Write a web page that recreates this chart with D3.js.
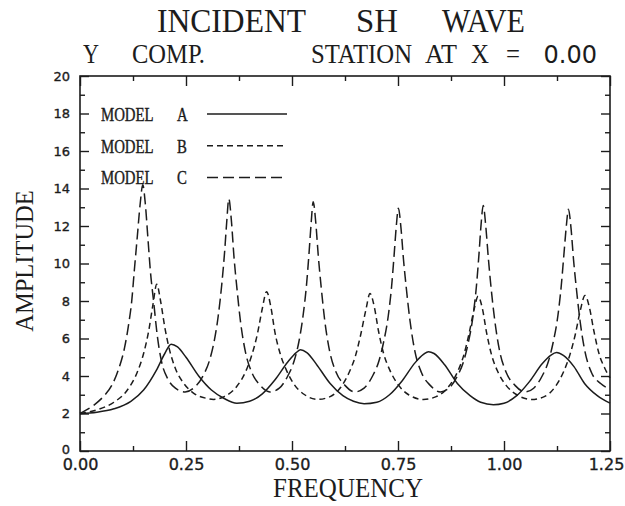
<!DOCTYPE html>
<html>
<head>
<meta charset="utf-8">
<script src="https://cdn.jsdelivr.net/npm/d3@7"></script>
<style>
  html, body { margin: 0; padding: 0; background: #fff; }
  svg { display: block; }
  text { white-space: pre; }
</style>
</head>
<body>
<svg id="chart" width="625" height="506"></svg>
<script>
// Axis ticks
const frequencyTicks = [0, 0.25, 0.5, 0.75, 1.0, 1.25];
const frequencyMinorTicks = [0.125, 0.375, 0.625, 0.875, 1.125];
const amplitudeTicks = [0, 2, 4, 6, 8, 10, 12, 14, 16, 18, 20];
const amplitudeMinorTicks = [1, 3, 5, 7, 9, 11, 13, 15, 17, 19];

// Model A (solid)
const freqA = [0, 0.04, 0.08, 0.12, 0.15, 0.18, 0.20, 0.215, 0.23, 0.25, 0.28, 0.31, 0.34, 0.37, 0.40, 0.43, 0.46, 0.49, 0.51, 0.52, 0.535, 0.56, 0.59, 0.62, 0.645, 0.67, 0.70, 0.73, 0.76, 0.79, 0.81, 0.822, 0.835, 0.86, 0.89, 0.92, 0.945, 0.975, 1.0, 1.03, 1.06, 1.09, 1.11, 1.124, 1.14, 1.165, 1.19, 1.22, 1.25];
const ampA  = [2.0, 2.07, 2.25, 2.65, 3.25, 4.3, 5.2, 5.7, 5.55, 5.0, 4.0, 3.25, 2.8, 2.55, 2.65, 3.05, 3.8, 4.75, 5.25, 5.4, 5.25, 4.55, 3.6, 2.95, 2.65, 2.52, 2.6, 3.0, 3.75, 4.7, 5.15, 5.3, 5.2, 4.6, 3.6, 2.95, 2.6, 2.47, 2.55, 2.95, 3.7, 4.65, 5.1, 5.25, 5.1, 4.5, 3.6, 2.95, 2.55];

// Model B (short dashes)
const freqB = [0, 0.04, 0.08, 0.11, 0.135, 0.15, 0.162, 0.172, 0.181, 0.19, 0.20, 0.21, 0.225, 0.245, 0.27, 0.30, 0.315, 0.34, 0.37, 0.39, 0.405, 0.418, 0.43, 0.44, 0.45, 0.46, 0.472, 0.487, 0.505, 0.53, 0.56, 0.59, 0.615, 0.635, 0.65, 0.662, 0.674, 0.684, 0.694, 0.704, 0.716, 0.731, 0.75, 0.775, 0.81, 0.84, 0.87, 0.89, 0.905, 0.917, 0.929, 0.939, 0.949, 0.959, 0.971, 0.986, 1.005, 1.03, 1.065, 1.095, 1.12, 1.14, 1.155, 1.168, 1.18, 1.191, 1.201, 1.212, 1.224, 1.238, 1.25];
const ampB  = [2.0, 2.2, 2.6, 3.2, 4.2, 5.2, 6.4, 7.8, 8.9, 8.0, 6.6, 5.5, 4.4, 3.6, 3.05, 2.8, 2.75, 2.9, 3.45, 4.2, 5.1, 6.2, 7.6, 8.5, 7.7, 6.3, 5.2, 4.3, 3.55, 3.0, 2.75, 2.9, 3.4, 4.2, 5.1, 6.2, 7.5, 8.4, 7.7, 6.4, 5.2, 4.3, 3.55, 3.0, 2.75, 2.9, 3.45, 4.2, 5.1, 6.2, 7.5, 8.25, 7.6, 6.3, 5.1, 4.2, 3.5, 3.0, 2.75, 2.9, 3.4, 4.2, 5.1, 6.2, 7.5, 8.3, 7.7, 6.4, 5.2, 4.4, 3.9];

// Model C (long dashes)
const freqC = [0, 0.03, 0.055, 0.075, 0.09, 0.105, 0.115, 0.122, 0.128, 0.135, 0.142, 0.148, 0.154, 0.16, 0.166, 0.174, 0.182, 0.192, 0.207, 0.225, 0.248,
  0.27, 0.29, 0.305, 0.316, 0.326, 0.334, 0.341, 0.346, 0.351, 0.357, 0.363, 0.37, 0.378, 0.39, 0.405, 0.425, 0.448,
  0.47, 0.49, 0.505, 0.516, 0.526, 0.534, 0.54, 0.545, 0.55, 0.556, 0.562, 0.569, 0.577, 0.589, 0.604, 0.625, 0.648,
  0.67, 0.69, 0.705, 0.716, 0.727, 0.735, 0.741, 0.746, 0.751, 0.757, 0.763, 0.77, 0.778, 0.79, 0.805, 0.826, 0.85,
  0.87, 0.89, 0.905, 0.916, 0.927, 0.935, 0.941, 0.946, 0.951, 0.957, 0.963, 0.97, 0.978, 0.99, 1.005, 1.026, 1.05,
  1.07, 1.09, 1.105, 1.116, 1.127, 1.135, 1.141, 1.147, 1.152, 1.158, 1.164, 1.171, 1.179, 1.191, 1.206, 1.228, 1.25];
const ampC  = [2.0, 2.4, 2.9, 3.5, 4.3, 5.5, 6.8, 8.0, 9.6, 11.4, 13.2, 14.2, 13.2, 11.4, 9.6, 7.9, 6.2, 4.8, 3.85, 3.35, 3.15,
  3.4, 4.0, 4.8, 5.8, 7.2, 8.8, 10.6, 12.2, 13.45, 12.3, 10.4, 8.7, 7.0, 5.3, 4.2, 3.5, 3.15,
  3.35, 4.0, 4.8, 5.8, 7.2, 8.8, 10.5, 12.1, 13.3, 12.2, 10.4, 8.7, 7.0, 5.3, 4.2, 3.5, 3.15,
  3.35, 4.0, 4.8, 5.8, 7.2, 8.8, 10.5, 12.0, 12.95, 11.9, 10.2, 8.6, 7.0, 5.3, 4.2, 3.5, 3.15,
  3.35, 4.0, 4.8, 5.8, 7.2, 8.8, 10.5, 12.1, 13.1, 12.0, 10.3, 8.6, 7.0, 5.3, 4.2, 3.5, 3.15,
  3.35, 4.0, 4.8, 5.8, 7.2, 8.8, 10.4, 12.0, 12.9, 11.9, 10.2, 8.6, 7.0, 5.3, 4.2, 3.6, 3.3];

const modelNames = ["A", "B", "C"];
const modelDashes = [null, "6,4", "11,5"];

// Heading words: [text, left x, width]
const titleWords = [["INCIDENT", 157, 149], ["SH", 356, 42], ["WAVE", 442, 83]];
const subtitleWords = [["Y", 83, 16], ["COMP.", 132, 73], ["STATION", 311, 101], ["AT", 425, 32], ["X", 471, 18], ["=", 506, 14]];
const stationValue = "0.00";

const ink = "#1c1c1c";
const serif = "'Liberation Serif', 'Times New Roman', serif";
const sans = "'DejaVu Sans', sans-serif";

const svg = d3.select("#chart");
const plot = { left: 80, right: 610, top: 76, bottom: 451 };

const x = d3.scaleLinear().domain([0, 1.25]).range([plot.left, plot.right]);
const y = d3.scaleLinear().domain([0, 20]).range([plot.bottom, plot.top]);

// Title and subtitle, word by word
svg.append("g").selectAll("text")
  .data(titleWords)
  .join("text")
  .attr("transform", d => `translate(${d[1]},32) scale(1,1.1)`)
  .attr("textLength", d => d[2]).attr("lengthAdjust", "spacingAndGlyphs")
  .attr("font-family", serif).attr("font-size", 31.5)
  .attr("fill", ink)
  .text(d => d[0]);

svg.append("g").selectAll("text")
  .data(subtitleWords)
  .join("text")
  .attr("transform", d => `translate(${d[1]},63) scale(1,1.1)`)
  .attr("textLength", d => d[2]).attr("lengthAdjust", "spacingAndGlyphs")
  .attr("font-family", serif).attr("font-size", 24)
  .attr("fill", ink)
  .text(d => d[0]);

svg.append("text")
  .attr("x", 597).attr("y", 63)
  .attr("text-anchor", "end")
  .attr("font-family", sans).attr("font-size", 24)
  .attr("fill", ink)
  .text(stationValue);

// Axes: ticks point into the plot on all four sides
const bottomAxis = d3.axisBottom(x).tickValues(frequencyTicks).tickSize(-10).tickPadding(8)
  .tickFormat(d3.format(".2f"));
const bottomMinor = d3.axisBottom(x).tickValues(frequencyMinorTicks).tickSize(-5).tickFormat("");
const topAxis = d3.axisTop(x).tickValues(frequencyTicks).tickSize(-10).tickFormat("");
const topMinor = d3.axisTop(x).tickValues(frequencyMinorTicks).tickSize(-5).tickFormat("");
const leftAxis = d3.axisLeft(y).tickValues(amplitudeTicks).tickSize(-9).tickPadding(10)
  .tickFormat(d3.format("d"));
const leftMinor = d3.axisLeft(y).tickValues(amplitudeMinorTicks).tickSize(-5).tickFormat("");
const rightAxis = d3.axisRight(y).tickValues(amplitudeTicks).tickSize(-9).tickFormat("");
const rightMinor = d3.axisRight(y).tickValues(amplitudeMinorTicks).tickSize(-5).tickFormat("");

function styleAxis(size) {
  return g => {
    g.select(".domain").remove();
    g.selectAll(".tick line").attr("stroke", ink).attr("stroke-width", 1.4);
    g.selectAll(".tick text")
      .attr("fill", ink).attr("stroke", ink).attr("stroke-width", 0.35)
      .attr("font-family", sans).attr("font-size", size);
  };
}

svg.append("g").attr("transform", `translate(0,${plot.bottom})`).call(bottomAxis).call(styleAxis(16))
  .selectAll(".tick text").attr("dx", d => d === 1.25 ? -4 : 0);
svg.append("g").attr("transform", `translate(0,${plot.bottom})`).call(bottomMinor).call(styleAxis(16));
svg.append("g").attr("transform", `translate(0,${plot.top})`).call(topAxis).call(styleAxis(16));
svg.append("g").attr("transform", `translate(0,${plot.top})`).call(topMinor).call(styleAxis(16));
svg.append("g").attr("transform", `translate(${plot.left},0)`).call(leftAxis).call(styleAxis(13))
  .selectAll(".tick text").attr("dy", d => d === 0 ? "0.2em" : "0.32em");
svg.append("g").attr("transform", `translate(${plot.left},0)`).call(leftMinor).call(styleAxis(13));
svg.append("g").attr("transform", `translate(${plot.right},0)`).call(rightAxis).call(styleAxis(13));
svg.append("g").attr("transform", `translate(${plot.right},0)`).call(rightMinor).call(styleAxis(13));

// Frame
svg.append("rect")
  .attr("x", plot.left).attr("y", plot.top)
  .attr("width", plot.right - plot.left).attr("height", plot.bottom - plot.top)
  .attr("fill", "none").attr("stroke", ink).attr("stroke-width", 1.6);

// Axis titles
svg.append("text")
  .attr("transform", `translate(33,261) rotate(-90)`)
  .attr("text-anchor", "middle")
  .attr("font-family", serif).attr("font-size", 24.5)
  .attr("fill", ink)
  .text("AMPLITUDE");

svg.append("text")
  .attr("transform", "translate(348,497) scale(1,1.1)")
  .attr("text-anchor", "middle")
  .attr("font-family", serif).attr("font-size", 25)
  .attr("fill", ink)
  .text("FREQUENCY");

// Response curves
const series = [
  freqA.map((f, i) => [f, ampA[i]]),
  freqB.map((f, i) => [f, ampB[i]]),
  freqC.map((f, i) => [f, ampC[i]])
];

const line = d3.line()
  .x(d => x(d[0]))
  .y(d => y(d[1]))
  .curve(d3.curveMonotoneX);

svg.append("g").selectAll("path")
  .data(series)
  .join("path")
  .attr("d", line)
  .attr("fill", "none")
  .attr("stroke", ink)
  .attr("stroke-width", 1.5)
  .attr("stroke-dasharray", (d, i) => modelDashes[i]);

// Legend (narrow lettering)
const legend = svg.append("g");
modelNames.forEach((name, i) => {
  const ly = 114 + i * 31.7;
  legend.append("text")
    .attr("transform", `translate(101,${ly + 7}) scale(0.78,1)`)
    .attr("font-family", serif).attr("font-size", 19)
    .attr("fill", ink).attr("stroke", ink).attr("stroke-width", 0.4)
    .text("MODEL");
  legend.append("text")
    .attr("transform", `translate(177,${ly + 7}) scale(0.78,1)`)
    .attr("font-family", serif).attr("font-size", 19)
    .attr("fill", ink).attr("stroke", ink).attr("stroke-width", 0.4)
    .text(name);
  legend.append("line")
    .attr("x1", 207).attr("x2", 287)
    .attr("y1", ly).attr("y2", ly)
    .attr("stroke", ink).attr("stroke-width", 1.5)
    .attr("stroke-dasharray", modelDashes[i]);
});
</script>
</body>
</html>
